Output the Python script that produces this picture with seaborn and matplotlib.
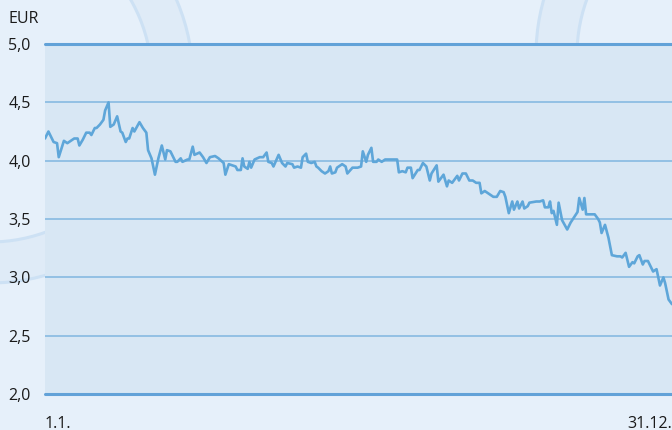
import matplotlib
matplotlib.use("Agg")
import matplotlib.pyplot as plt
from matplotlib.patches import Wedge
import seaborn as sns
import pandas as pd

# ---- data ----
day = [0, 2, 5, 7, 8, 11, 13, 16, 17, 19, 20, 22, 24, 26, 27, 29, 30, 32, 34, 35,
       37, 38, 40, 42, 44, 45, 47, 48, 49, 51, 52, 55, 57, 59, 60, 62, 64, 66, 68, 70,
       71, 73, 74, 76, 77, 79, 80, 83, 84, 86, 87, 90, 92, 94, 96, 99, 101, 104, 105, 107,
       109, 111, 112, 114, 115, 116, 118, 119, 120, 122, 125, 127, 129, 130, 132, 133, 136, 138, 140, 141,
       144, 145, 147, 149, 150, 152, 153, 155, 157, 158, 159, 161, 163, 165, 166, 167, 169, 170, 173, 175,
       176, 179, 182, 184, 185, 187, 188, 190, 191, 193, 194, 196, 198, 201, 203, 205, 206, 208, 210, 211,
       213, 214, 217, 218, 220, 222, 224, 225, 228, 229, 231, 232, 234, 235, 237, 240, 241, 243, 245, 247,
       249, 251, 253, 254, 256, 258, 261, 263, 265, 267, 268, 270, 272, 273, 275, 276, 278, 279, 281, 282,
       286, 288, 290, 291, 293, 294, 295, 296, 298, 299, 301, 304, 306, 310, 311, 313, 314, 315, 318, 320,
       322, 323, 324, 326, 328, 330, 333, 335, 336, 338, 340, 342, 343, 345, 346, 348, 349, 351, 353, 354,
       356, 358, 360, 361, 363, 365]
price = [4.19, 4.25, 4.16, 4.15, 4.03, 4.17, 4.15, 4.18, 4.19, 4.19, 4.13, 4.18, 4.24, 4.24, 4.22, 4.28, 4.28, 4.31, 4.35, 4.43,
         4.50, 4.29, 4.31, 4.38, 4.25, 4.24, 4.16, 4.19, 4.19, 4.28, 4.25, 4.33, 4.28, 4.24, 4.09, 4.02, 3.88, 4.02, 4.13, 4.01,
         4.09, 4.08, 4.05, 3.99, 3.99, 4.02, 3.99, 4.01, 4.01, 4.12, 4.05, 4.07, 4.03, 3.98, 4.03, 4.04, 4.02, 3.98, 3.88, 3.97,
         3.96, 3.95, 3.92, 3.92, 4.02, 3.95, 3.93, 3.99, 3.94, 4.01, 4.03, 4.03, 4.07, 3.99, 3.98, 3.95, 4.05, 3.98, 3.95, 3.98,
         3.97, 3.94, 3.95, 3.94, 4.03, 4.06, 3.99, 3.98, 3.99, 3.95, 3.94, 3.91, 3.89, 3.91, 3.95, 3.89, 3.90, 3.94, 3.97, 3.95,
         3.89, 3.94, 3.94, 3.95, 4.08, 3.99, 4.05, 4.11, 3.99, 3.99, 4.01, 3.99, 4.01, 4.01, 4.01, 4.01, 3.90, 3.91, 3.90, 3.94,
         3.94, 3.85, 3.92, 3.92, 3.98, 3.95, 3.83, 3.89, 3.96, 3.82, 3.86, 3.88, 3.78, 3.83, 3.81, 3.87, 3.83, 3.89, 3.89, 3.83,
         3.83, 3.81, 3.81, 3.72, 3.74, 3.72, 3.69, 3.69, 3.74, 3.73, 3.69, 3.55, 3.65, 3.58, 3.65, 3.59, 3.65, 3.59, 3.61, 3.64,
         3.65, 3.65, 3.66, 3.60, 3.60, 3.65, 3.55, 3.57, 3.45, 3.64, 3.49, 3.41, 3.47, 3.56, 3.68, 3.58, 3.68, 3.54, 3.54, 3.54,
         3.50, 3.47, 3.38, 3.45, 3.34, 3.19, 3.18, 3.18, 3.17, 3.21, 3.09, 3.13, 3.12, 3.18, 3.19, 3.11, 3.14, 3.14, 3.08, 3.05,
         3.07, 2.93, 3.00, 2.95, 2.81, 2.77]
y_ticks = [2.0, 2.5, 3.0, 3.5, 4.0, 4.5, 5.0]
y_tick_labels = ["2,0", "2,5", "3,0", "3,5", "4,0", "4,5", "5,0"]
x_ticks = [0, 365]
x_tick_labels = ["1.1.", "31.12."]
unit_label = "EUR"

df = pd.DataFrame({"day": day, "price": price})

# ---- style ----
sns.set_style("white")
plt.rcParams["font.family"] = ["Open Sans", "DejaVu Sans"]

BG = "#e6f0fa"
PLOT_BG = "#d8e7f4"
LINE = "#5ea6d9"
GRID = "#80b6e0"
GRID_EDGE = "#62a2d8"
RING_FILL = "#dfebf7"
RING_EDGE = "#cde1f4"
TEXT = "#1a1a1a"
FS = 11.5

W, H = 672, 430
fig = plt.figure(figsize=(W / 100, H / 100), dpi=100, facecolor=BG)

# decorative background rings (figure pixel coordinates)
bg = fig.add_axes([0, 0, 1, 1], zorder=0)
bg.set_xlim(0, W)
bg.set_ylim(H, 0)
bg.axis("off")
for (cx, cy) in [(-10, 80), (739, 55)]:
    bg.add_patch(Wedge((cx, cy), 203, 0, 360, width=41, facecolor=RING_FILL,
                       edgecolor=RING_EDGE, linewidth=2.2))

left, right, top, bottom = 45, 672, 44, 394
ax = fig.add_axes([left / W, (H - bottom) / H, (right - left) / W, (bottom - top) / H], zorder=1)
ax.set_facecolor(PLOT_BG)

for v in y_ticks:
    if v in (y_ticks[0], y_ticks[-1]):
        ax.axhline(v, color=GRID_EDGE, lw=2.2, zorder=1, clip_on=False)
    else:
        ax.axhline(v, color=GRID, lw=1.1, zorder=1)

sns.lineplot(data=df, x="day", y="price", ax=ax, color=LINE, linewidth=1.9, zorder=3)

ax.set_xlim(0, 365)
ax.set_ylim(2.0, 5.0)
for s in ax.spines.values():
    s.set_visible(False)
ax.set_xlabel("")
ax.set_ylabel("")

ax.set_yticks(y_ticks)
ax.set_yticklabels(y_tick_labels)
ax.tick_params(axis="y", length=0, pad=26.5, labelsize=FS, labelcolor=TEXT)
for lbl in ax.get_yticklabels():
    lbl.set_horizontalalignment("left")

ax.set_xticks(x_ticks)
ax.set_xticklabels(x_tick_labels)
ax.tick_params(axis="x", length=0, pad=15.5, labelsize=FS, labelcolor=TEXT)
xl = ax.get_xticklabels()
xl[0].set_horizontalalignment("left")
xl[-1].set_horizontalalignment("right")

fig.text(8 / W, 1 - 19 / H, unit_label, ha="left", va="center", fontsize=FS, color=TEXT)

fig.savefig("out.png", dpi=100, facecolor=BG)
